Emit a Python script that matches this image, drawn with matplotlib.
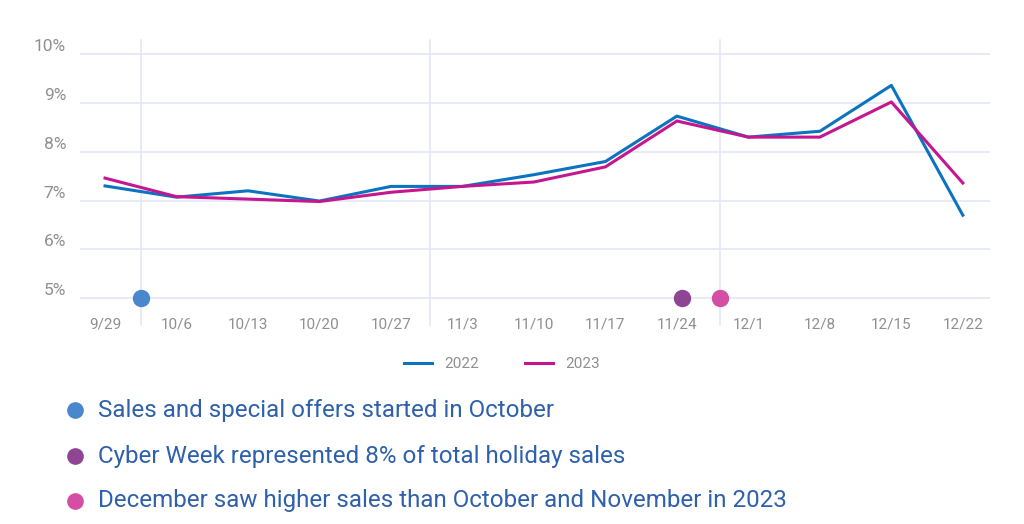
import matplotlib
matplotlib.use("Agg")
import matplotlib.pyplot as plt
from matplotlib.lines import Line2D

plt.rcParams['font.family'] = ['Roboto', 'DejaVu Sans']

weeks = ['9/29', '10/6', '10/13', '10/20', '10/27', '11/3', '11/10',
         '11/17', '11/24', '12/1', '12/8', '12/15', '12/22']
sales_2022 = [7.30, 7.07, 7.20, 6.99, 7.29, 7.29, 7.53, 7.80, 8.73, 8.30, 8.42, 9.36, 6.70]
sales_2023 = [7.46, 7.08, 7.03, 6.98, 7.17, 7.29, 7.38, 7.69, 8.63, 8.30, 8.30, 9.02, 7.36]
yticks = [5, 6, 7, 8, 9, 10]

# vertical guides (week index positions)
guides = [0.5, 4.55, 8.6]

# event dots: position on x, colour, note
events_x = [0.5, 8.07, 8.6]
event_colors = ['#4a87cc', '#8e4593', '#d44fa3']
notes = ['Sales and special offers started in October',
         'Cyber Week represented 8% of total holiday sales',
         'December saw higher sales than October and November in 2023']

c2022 = '#0b73bf'
c2023 = '#c5168f'
grid_c = '#e4e7f6'
tick_c = '#8f8f8f'
text_c = '#2e60ab'

fig = plt.figure(figsize=(10.24, 5.24), dpi=100)
ax = fig.add_axes([80 / 1024, 1 - 305 / 524, 910 / 1024, 265 / 524])

x = list(range(len(weeks)))
ax.set_xlim(-0.35, 12.38)
ax.set_ylim(4.86, 10.29)

for y in yticks:
    ax.axhline(y, color=grid_c, lw=1.2, zorder=0)
for g in guides:
    ax.plot([g, g], [4.45, 10.29], color=grid_c, lw=1.2, zorder=0, clip_on=False)

ax.plot(x, sales_2022, color=c2022, lw=2.2, label='2022', zorder=3)
ax.plot(x, sales_2023, color=c2023, lw=2.2, label='2023', zorder=3)

for ex, ec in zip(events_x, event_colors):
    ax.plot(ex, 5, 'o', color=ec, ms=11.5, zorder=4, clip_on=False)

for s in ax.spines.values():
    s.set_visible(False)

ax.set_xticks(x)
ax.set_xticklabels(weeks)
ax.set_yticks(yticks)
ax.set_yticklabels([f'{v}%' for v in yticks])
ax.tick_params(axis='both', length=0, colors=tick_c, labelsize=11)
ax.tick_params(axis='y', labelsize=12.5, pad=10)
ax.tick_params(axis='x', pad=9)
for lbl in ax.get_yticklabels():
    lbl.set_verticalalignment('bottom')

fig.legend(handles=[Line2D([], [], color=c2022, lw=2.2), Line2D([], [], color=c2023, lw=2.2)],
           labels=['2022', '2023'], loc='center', bbox_to_anchor=(502 / 1024, 1 - 364 / 524),
           ncol=2, frameon=False, fontsize=11, handlelength=1.85, handletextpad=0.8,
           columnspacing=3.0, labelcolor=tick_c)

note_y = [410, 456, 501]
for ny, ec, note in zip(note_y, event_colors, notes):
    fy = 1 - ny / 524
    fig.add_artist(Line2D([75 / 1024], [fy], marker='o', ms=11, color=ec,
                          transform=fig.transFigure))
    fig.text(98 / 1024, fy, note, color=text_c, fontsize=17.4, va='center', ha='left')

fig.savefig('out.png', dpi=100, facecolor='white')
